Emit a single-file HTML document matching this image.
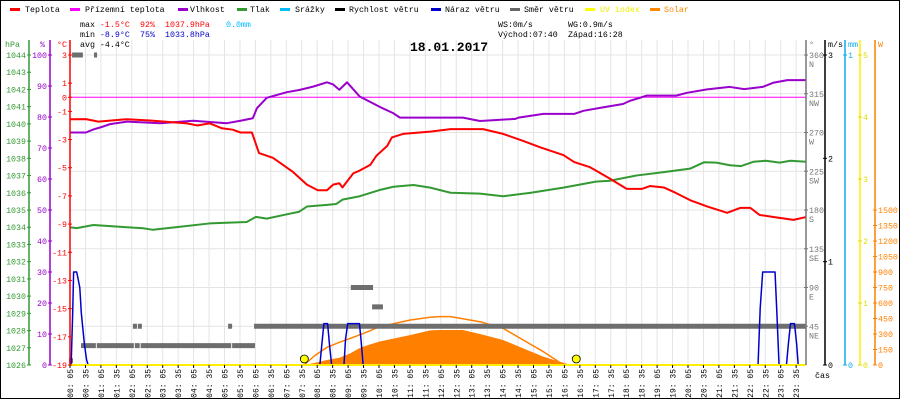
<!DOCTYPE html>
<html><head><meta charset="utf-8"><style>
html,body{margin:0;padding:0;background:#fff}
svg{display:block;font-family:"Liberation Mono",monospace}
</style></head><body>
<svg id="c" width="900" height="400" viewBox="0 0 900 400" xmlns="http://www.w3.org/2000/svg">
<rect x="0.5" y="0.5" width="899" height="398" fill="#fff" stroke="#000"/>
<g id="grid"></g>
<g id="marks"></g>
<g id="axes"></g>
<g font-size="8.3">
 <g><rect x="10" y="8" width="10" height="3" fill="#f00"/><text x="25" y="12">Teplota</text></g>
 <g><rect x="70" y="8" width="10" height="3" fill="#f0f"/><text x="85" y="12">Přízemní teplota</text></g>
 <g><rect x="178" y="8" width="10" height="3" fill="#90c"/><text x="190" y="12">Vlhkost</text></g>
 <g><rect x="237" y="8" width="10" height="3" fill="#393"/><text x="250" y="12">Tlak</text></g>
 <g><rect x="280" y="8" width="10" height="3" fill="#0bf"/><text x="295" y="12">Srážky</text></g>
 <g><rect x="335" y="8" width="10" height="3" fill="#000"/><text x="349" y="12">Rychlost větru</text></g>
 <g><rect x="431" y="8" width="10" height="3" fill="#00c"/><text x="445" y="12">Náraz větru</text></g>
 <g><rect x="510" y="8" width="10" height="3" fill="#666"/><text x="524" y="12">Směr větru</text></g>
 <g><rect x="585" y="8" width="10" height="3" fill="#ff0"/><text x="600" y="12" fill="#ee0">UV index</text></g>
 <g><rect x="650" y="8" width="10" height="3" fill="#f80"/><text x="664" y="12" fill="#f80">Solar</text></g>
</g>
<g font-size="8.3">
 <text x="80" y="27">max <tspan fill="#f00">-1.5°C</tspan></text><text x="140" y="27" fill="#f00">92%</text><text x="165" y="27" fill="#f00">1037.9hPa</text><text x="226" y="27" fill="#0bf">0.0mm</text>
 <text x="80" y="37">min <tspan fill="#00c">-8.9°C</tspan></text><text x="140" y="37" fill="#00c">75%</text><text x="165" y="37" fill="#00c">1033.8hPa</text>
 <text x="80" y="47">avg -4.4°C</text>
 <text x="498" y="27">WS:0m/s</text><text x="568" y="27">WG:0.9m/s</text>
 <text x="498" y="37">Východ:07:40</text><text x="568" y="37">Západ:16:28</text>
</g>
<text x="449" y="51" font-size="13" font-weight="bold" text-anchor="middle">18.01.2017</text>
</svg>
<script>
// ---- data (hours, values) ----
const tempH=[0.08,0.6,1.0,1.9,2.67,3.87,4.2,4.6,5.0,5.35,5.6,5.97,6.2,6.65,7.3,7.75,8.1,8.4,8.6,8.8,8.9,9.25,9.46,9.8,10.0,10.35,10.5,10.86,11.74,12.4,13.45,14.1,14.75,15.3,16.05,16.4,16.9,17.5,18.1,18.6,18.85,19.3,19.7,20.15,20.7,21.35,21.77,22.1,22.4,22.85,23.5,23.9];
const tempV=[-1.56,-1.55,-1.73,-1.56,-1.65,-1.85,-2.0,-1.85,-2.2,-2.3,-2.5,-2.5,-3.96,-4.3,-5.3,-6.2,-6.6,-6.6,-6.2,-6.1,-6.4,-5.4,-5.2,-4.8,-4.15,-3.45,-2.85,-2.6,-2.44,-2.26,-2.26,-2.6,-3.1,-3.55,-4.1,-4.6,-4.95,-5.7,-6.5,-6.5,-6.3,-6.4,-6.8,-7.3,-7.75,-8.2,-7.85,-7.85,-8.35,-8.5,-8.7,-8.5];
const humH=[0.08,0.6,0.84,1.15,1.38,1.93,3.0,4.07,5.16,5.6,6.0,6.13,6.45,7.1,7.5,7.95,8.4,8.6,8.8,9.05,9.46,10.1,10.55,10.76,12.8,13.35,14.5,14.6,15.4,16.4,16.7,17.33,17.98,18.2,18.75,19.7,20.05,20.7,21.44,21.9,22.5,22.86,23.3,23.9];
const humV=[75,75,76,76.9,77.7,78.5,78,78.8,78,78.8,79.6,82.8,86.2,88,88.7,89.8,91.2,90.5,88.8,91.2,86.6,83.3,81.2,79.8,79.8,78.7,79.4,79.8,81,81,82,83.1,84.2,85.2,86.9,86.9,87.8,88.9,89.7,89,89.7,91.1,91.9,91.9];
const presH=[0.08,0.3,0.84,1.93,2.45,2.77,3.5,4.6,5.8,6.1,6.45,7.1,7.5,7.75,8.4,8.7,8.9,9.46,10.1,10.55,11.2,11.74,12.4,13.35,14.1,15.0,16.05,17.1,17.55,18.4,19.3,20.15,20.6,21.0,21.44,21.8,22.2,22.6,23.05,23.4,23.9];
const presV=[1034.0,1033.95,1034.13,1034.0,1033.94,1033.85,1034.0,1034.22,1034.3,1034.6,1034.5,1034.75,1034.9,1035.2,1035.3,1035.35,1035.6,1035.8,1036.16,1036.35,1036.45,1036.3,1036.0,1035.95,1035.8,1036.0,1036.3,1036.65,1036.7,1037.0,1037.2,1037.4,1037.77,1037.75,1037.6,1037.55,1037.8,1037.86,1037.75,1037.86,1037.8];
const gustH=[0.12,0.17,0.2,0.3,0.4,0.45,0.5,0.55,0.62,0.67,8.17,8.25,8.3,8.42,8.48,8.55,8.95,9.0,9.07,9.45,9.5,9.57,22.35,22.42,22.5,22.9,22.96,23.03,23.27,23.33,23.4,23.53,23.6,23.65];
const gustV=[0,0.5,0.9,0.9,0.75,0.5,0.35,0.2,0.05,0,0,0.25,0.4,0.4,0.2,0,0,0.25,0.4,0.4,0.25,0,0,0.55,0.9,0.9,0.5,0,0,0.2,0.4,0.4,0.2,0];
const solarH=[7.68,8.0,8.4,8.8,9.15,9.5,10.1,11.1,11.74,12.05,12.8,13.35,14.1,14.75,15.4,15.85,16.3];
const solarV=[0,20,48,70,113,171,227,290,335,339,339,300,242,161,81,39,0];
const clearH=[7.66,8.0,8.4,8.8,9.25,9.7,10.1,11.1,11.74,12.05,12.4,13.35,14.1,14.75,15.4,15.75,16.05];
const clearV=[0,90,171,220,268,320,371,435,462,468,468,419,355,242,129,60,0];
const dirStart=[0.05,0.15,0.86,0.44,0.95,2.18,2.37,5.33,2.12,2.28,5.2,6.04,9.17,9.86];
const dirEnd=[0.18,0.5,0.96,0.92,2.15,2.34,5.3,6.07,2.25,2.41,5.33,23.9,9.89,10.21];
const dirVal=[5,360,360,22.5,22.5,22.5,22.5,22.5,45,45,45,45,90,67.5];
const sunEvents=[7.667,16.467];
const timeLabels=[];for(let i=0;i<48;i++){const m=5+30*i;timeLabels.push(String(Math.floor(m/60)).padStart(2,'0')+': '+String(m%60).padStart(2,'0'));}
const tempTicks=[3,1,0,-1,-3,-5,-7,-9,-11,-13,-15,-17,-19];
const humTicks=[100,90,80,70,60,50,40,30,20,10,0];
const presTicks=[1044,1043,1042,1041,1040,1039,1038,1037,1036,1035,1034,1033,1032,1031,1030,1029,1028,1027,1026];
const dirTicks=[360,315,270,225,180,135,90,45];
const dirNames=['N','NW','W','SW','S','SE','E','NE'];
const wsTicks=[3,2,1,0];
const uvTicks=[5,4,3,2,1,0];
const solTicks=[1500,1350,1200,1050,900,750,600,450,300,150,0];

// ---- scales ----
const TOP=55,BOT=365,L=70,R=806;
const X=h=>70+(h-0.0833)*30.9;
const yT=v=>TOP+(3-v)*(BOT-TOP)/22;
const yH=v=>BOT-v*3.1;
const yP=v=>TOP+(1044-v)*(BOT-TOP)/18;
const yD=v=>BOT-v/360*(BOT-TOP);
const yW=v=>BOT-v*(BOT-TOP)/3;
const yS=v=>BOT-v*155/1500;
const yU=v=>BOT-v*(BOT-TOP)/5;
const NS='http://www.w3.org/2000/svg';
function mk(p,tag,attrs){const e=document.createElementNS(NS,tag);for(const k in attrs)e.setAttribute(k,attrs[k]);p.appendChild(e);return e;}
const grid=document.getElementById('grid'),marks=document.getElementById('marks'),axes=document.getElementById('axes');

for(let i=0;i<48;i++){const x=X(i*0.5+0.0833);const g=mk(grid,'line',{x1:x,x2:x,y1:40,y2:BOT,stroke:'#e4e4e4'});

}
for(let i=0;i<8;i++){const y=yD(dirTicks[i]);const g=mk(grid,'line',{x1:L,x2:R,y1:y,y2:y,stroke:'#e4e4e4'});

}

let d='M'+X(solarH[0])+','+BOT;solarH.forEach((h,i)=>{d+=' L'+X(h)+','+yS(solarV[i]);});d+=' L'+X(solarH[solarH.length-1])+','+BOT+'Z';
let e=mk(marks,'path',{d:d,fill:'#ff8000'});


e=mk(marks,'polyline',{points:clearH.map((h,i)=>X(h)+','+yS(clearV[i])).join(' '),fill:'none',stroke:'#ff8000','stroke-width':1.5});


dirVal.forEach((v,i)=>{const r=mk(marks,'rect',{x:X(dirStart[i]),y:Math.min(yD(v)-2.5,BOT-5),width:X(dirEnd[i])-X(dirStart[i]),height:5,fill:'#6e6e6e'});

});
e=mk(marks,'line',{x1:L,x2:R,y1:yT(0),y2:yT(0),stroke:'#f0f'});


function line(H,V,f,col,w){return mk(marks,'polyline',{points:H.map((h,i)=>X(h)+','+f(V[i])).join(' '),fill:'none',stroke:col,'stroke-width':w,'stroke-linejoin':'round'});}
e=line(presH,presV,yP,'#339933',2);


e=line(humH,humV,yH,'#9900cc',2);


e=line(tempH,tempV,yT,'#ff0000',2);


e=line(gustH,gustV,yW,'#0000cc',1.5);


e=mk(marks,'line',{x1:L,x2:R,y1:BOT,y2:BOT,stroke:'#ffee00','stroke-width':2});


sunEvents.forEach(h=>{const c=mk(marks,'circle',{cx:X(h),cy:BOT-6,r:4,fill:'#ffff00',stroke:'#000','stroke-width':0.8});

});

function vaxis(x,col,name){const a=mk(axes,'line',{x1:x,x2:x,y1:40,y2:BOT,stroke:col,'stroke-width':1.5});}
vaxis(29,'#339933','pressure-axis');vaxis(50,'#9900cc','humidity-axis');vaxis(70,'#ff0000','temperature-axis');
vaxis(806,'#777','direction-axis');vaxis(825,'#000','wind-speed-axis');vaxis(845,'#11aaee','rain-axis');vaxis(860,'#ffee00','uv-axis');vaxis(875,'#ff8000','solar-axis');
function tick(x,y,col,label,anchor,tx,name){mk(axes,'line',{x1:x-2,x2:x+2,y1:y,y2:y,stroke:col});const t=mk(axes,'text',{x:tx,y:y+3,fill:col,'font-size':8.3,'text-anchor':anchor});t.textContent=label;

}
presTicks.forEach(v=>tick(29,yP(v),'#339933',v,'end',26,'pressure-tick-label'));
humTicks.forEach(v=>tick(50,yH(v),'#9900cc',v,'end',47,'humidity-tick-label'));
tempTicks.forEach(v=>tick(70,yT(v),'#ff0000',v,'end',67,'temperature-tick-label'));
dirTicks.forEach((v,i)=>{tick(806,yD(v),'#777',v,'start',809,'direction-tick-label');const t=mk(axes,'text',{x:809,y:yD(v)+12,fill:'#777','font-size':8.3});t.textContent=dirNames[i];

});
wsTicks.forEach(v=>tick(825,yW(v),'#000',v,'start',828,'wind-speed-tick-label'));
[1,0].forEach(v=>tick(845,BOT-v*(BOT-TOP),'#11aaee',v,'start',848,'rain-tick-label'));
uvTicks.forEach(v=>tick(860,yU(v),'#dddd00',v,'start',863,'uv-tick-label'));
solTicks.forEach(v=>tick(875,yS(v),'#ff8000',v,'start',878,'solar-tick-label'));
[['hPa',5,'#339933'],['%',40,'#9900cc'],['°C',57,'#ff0000'],['°',809,'#777'],['m/s',828,'#000'],['mm',848,'#11aaee'],['W',878,'#ff8000']].forEach(a=>{const t=mk(axes,'text',{x:a[1],y:47,fill:a[2],'font-size':8.3});t.textContent=a[0];

});
e=mk(axes,'text',{x:815,y:378,'font-size':8.3});e.textContent='čas';


timeLabels.forEach((s,i)=>{const x=X(i*0.5+0.0833);mk(axes,'line',{x1:x,x2:x,y1:BOT,y2:BOT+3,stroke:'#000'});const t=mk(axes,'text',{x:0,y:0,'font-size':8,'text-anchor':'end',transform:'translate('+(x+3)+',369) rotate(-90)'});t.textContent=s;

});
</script>
</body></html>
